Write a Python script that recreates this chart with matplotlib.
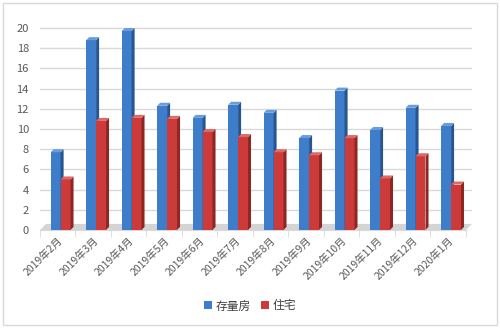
import matplotlib
matplotlib.use("Agg")
import matplotlib.pyplot as plt
from matplotlib.patches import Polygon, Rectangle
import numpy as np

plt.rcParams['font.family'] = ['Noto Sans CJK SC', 'DejaVu Sans']

categories = ["2019年2月", "2019年3月", "2019年4月", "2019年5月", "2019年6月", "2019年7月",
              "2019年8月", "2019年9月", "2019年10月", "2019年11月", "2019年12月", "2020年1月"]
cunliang = [7.7, 18.8, 19.7, 12.3, 11.1, 12.4, 11.6, 9.1, 13.8, 9.9, 12.1, 10.3]
zhuzhai = [5.0, 10.8, 11.1, 11.0, 9.7, 9.2, 7.7, 7.4, 9.1, 5.1, 7.3, 4.5]
series_names = ["存量房", "住宅"]
yticks = list(range(0, 21, 2))

fig = plt.figure(figsize=(5.0, 3.29), dpi=100)
ax = fig.add_axes([0.08, 0.301, 0.864, 0.623])

x = np.arange(len(categories))
w = 0.28
dx, dy = 0.085, 0.3  # 3D depth in data units

colors_front = ["#3D7DCA", "#CC3B39"]
colors_side = ["#27558F", "#8E2624"]
colors_top = ["#6A9CDB", "#DC6A66"]

# floor
floor = Polygon([(-0.5, 0), (11.5, 0), (11.5 + 2 * dx, 2 * dy), (-0.5 + 2 * dx, 2 * dy)],
                closed=True, facecolor="#D4D4D4", edgecolor="none", zorder=1)
ax.add_patch(floor)

for s, (vals, off) in enumerate([(cunliang, -0.06), (zhuzhai, 0.22)]):
    bars = ax.bar(x + off, vals, width=w, color=colors_front[s], zorder=3,
                  label=series_names[s], edgecolor="none")
    for b in bars:
        x0 = b.get_x(); x1 = x0 + b.get_width(); h = b.get_height()
        side = Polygon([(x1, 0), (x1 + dx, dy), (x1 + dx, h + dy), (x1, h)], closed=True,
                       facecolor=colors_side[s], edgecolor="none", zorder=3)
        top = Polygon([(x0, h), (x1, h), (x1 + dx, h + dy), (x0 + dx, h + dy)], closed=True,
                      facecolor=colors_top[s], edgecolor="none", zorder=3)
        ax.add_patch(side); ax.add_patch(top)

ax.set_xlim(-0.5, 11.5 + 2 * dx)
ax.set_ylim(0, 20.3)
ax.set_yticks(yticks)
ax.yaxis.grid(True, color="#D9D9D9", linewidth=1.0, zorder=0)
ax.set_axisbelow(True)
for sp in ax.spines.values():
    sp.set_visible(False)
ax.spines['bottom'].set_visible(True)
ax.spines['bottom'].set_color("#D9D9D9")
ax.spines['bottom'].set_bounds(-0.5, 11.5)

ax.set_xticks(x)
ax.set_xticklabels(categories, rotation=45, ha="right", rotation_mode="anchor",
                   fontsize=7.5, color="#595959")
ax.set_xticks(np.arange(-0.5, 12, 1), minor=True)
ax.tick_params(axis="x", which="major", length=0, pad=4)
ax.tick_params(axis="x", which="minor", length=5, color="#D9D9D9")
ax.tick_params(axis="y", length=0, labelsize=8, labelcolor="#595959", pad=8)

leg = fig.legend(loc="center", bbox_to_anchor=(0.5, 0.07), ncol=2, frameon=False,
                 fontsize=8.5, handlelength=0.7, handleheight=0.7, columnspacing=0.8,
                 handletextpad=0.3, labelcolor="#404040")

fig.patches.append(Rectangle((0.006, 0.012), 0.988, 0.978, transform=fig.transFigure,
                             fill=False, edgecolor="#D9D9D9", linewidth=1.0))

fig.savefig("out.png", dpi=100)
